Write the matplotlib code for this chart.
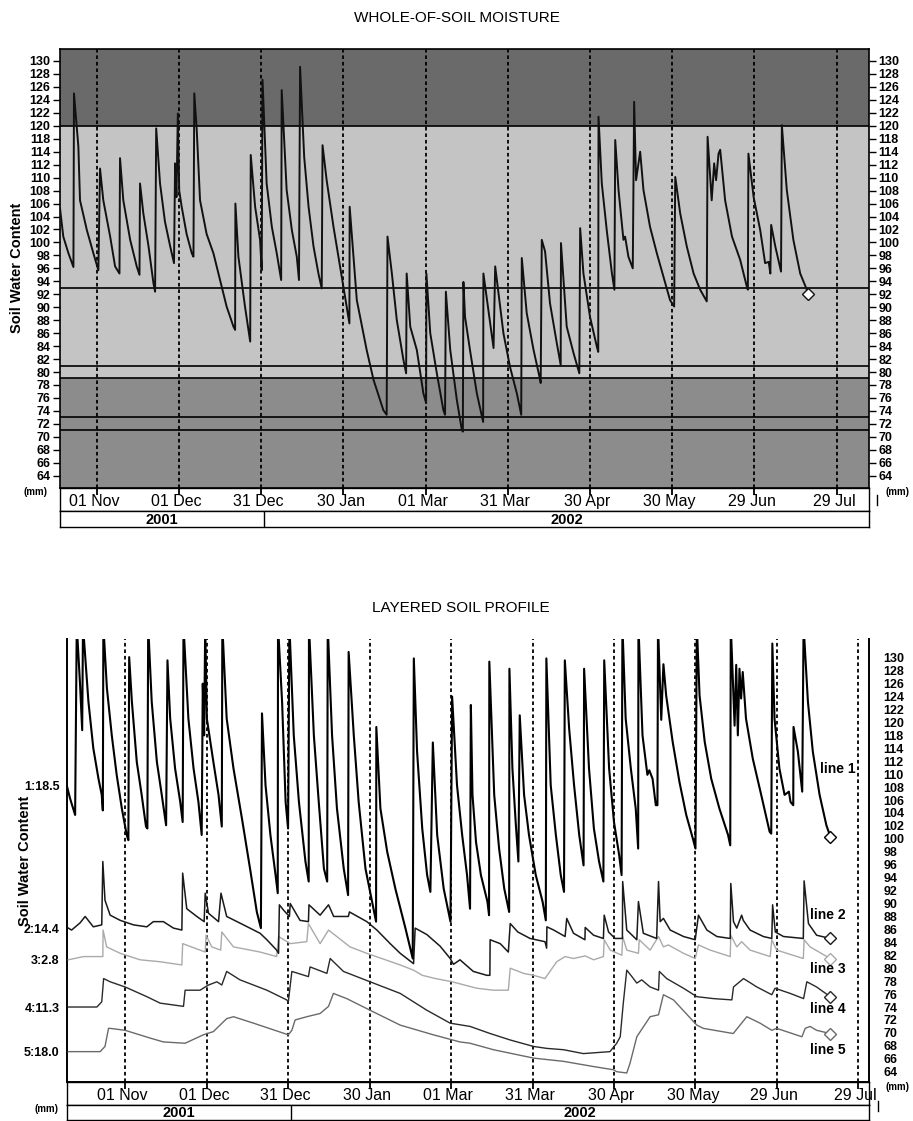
import matplotlib.pyplot as plt
from matplotlib.lines import Line2D
import numpy as np

plt.rcParams['font.family'] = ['Liberation Sans', 'DejaVu Sans']

W, H = 913, 1121

# x axis: days after 01 Nov 2001
DATE_LABELS = ['01 Nov', '01 Dec', '31 Dec', '30 Jan', '01 Mar', '31 Mar',
               '30 Apr', '30 May', '29 Jun', '29 Jul']
DATE_DAYS = [0, 30, 60, 90, 120, 150, 180, 210, 240, 270]
YEAR_LABELS = ['2001', '2002']
YEAR_START = 61  # 01 Jan 2002

# y scale labels as printed (116 is missing on the original scale)
SCALE_LABELS = [130, 128, 126, 124, 122, 120, 118, 114, 112, 110, 108, 106,
                104, 102, 100, 98, 96, 94, 92, 90, 88, 86, 84, 82, 80, 78,
                76, 74, 72, 70, 68, 66, 64]

# ---- whole-of-soil moisture (values on the drawn scale) ----
top_days = [
    -13.4, -12.2, -10.3, -8.5, -8.3, -6.7, -6.1, -3.6, -1.2, 0.6,
    1.2, 2.4, 4.9, 6.7, 8.3, 8.5, 9.7, 12.2, 14.6, 15.6,
    15.8, 17.0, 18.9, 20.7, 21.3, 21.7, 23.1, 24.9, 26.8, 28.2,
    28.6, 29.1, 29.6, 30.1, 31.0, 32.8, 34.7, 35.3, 35.6, 36.5,
    37.7, 40.1, 42.6, 45.0, 47.4, 49.9, 50.5, 50.6, 51.7, 54.1,
    56.0, 56.2, 57.8, 59.6, 60.2, 60.5, 62.0, 63.9, 65.7, 67.3,
    67.5, 69.3, 71.2, 73.0, 73.8, 74.2, 75.7, 77.3, 79.1, 80.9,
    82.1, 82.4, 83.9, 86.4, 88.8, 91.2, 92.2, 92.3, 93.7, 94.9,
    98.5, 101.0, 104.6, 105.8, 106.1, 107.7, 109.5, 111.9, 112.9, 113.1,
    114.4, 116.8, 119.2, 120.2, 120.3, 121.7, 124.1, 126.5, 127.1, 127.4,
    129.0, 131.4, 133.2, 133.6, 133.8, 134.4, 136.2, 138.7, 141.0, 141.1,
    144.8, 145.4, 148.4, 150.8, 153.3, 154.9, 155.1, 156.9, 159.4, 161.8,
    162.0, 162.4, 163.6, 165.4, 167.9, 169.3, 169.4, 171.5, 174.0, 176.1,
    176.4, 177.6, 180.0, 182.5, 183.0, 183.1, 184.3, 186.1, 188.0, 188.9,
    189.2, 190.4, 192.2, 192.8, 194.0, 195.6, 196.1, 196.8, 198.3, 199.5,
    201.9, 204.4, 206.8, 209.2, 210.7, 211.1, 212.9, 215.3, 217.8, 220.2,
    222.6, 222.9, 224.4, 225.3, 226.0, 226.9, 227.5, 229.3, 231.8, 234.8,
    237.2, 237.6, 237.8, 239.7, 242.1, 243.9, 245.2, 245.8, 246.1, 247.6,
    249.7, 250.0, 251.8, 254.2, 256.7, 259.7]
top_vals = [
    105.3, 100.9, 98.3, 96.2, 123.0, 114.8, 106.5, 101.9, 98.3, 95.7,
    111.4, 106.5, 100.9, 96.3, 95.2, 113.0, 106.5, 100.4, 96.3, 95.0,
    109.1, 104.5, 99.4, 93.7, 92.4, 117.6, 109.1, 103.2, 99.4, 96.8,
    112.2, 107.0, 119.9, 108.0, 105.5, 101.3, 98.3, 97.8, 123.0, 117.3,
    106.5, 101.3, 98.3, 94.2, 90.1, 87.0, 86.5, 106.0, 97.8, 90.1,
    84.7, 113.5, 105.5, 100.4, 95.7, 125.1, 109.1, 102.4, 98.3, 94.2,
    123.5, 108.1, 101.9, 97.8, 94.2, 127.1, 113.2, 105.5, 99.4, 95.2,
    92.9, 115.0, 109.6, 102.4, 96.3, 90.1, 87.5, 105.5, 97.8, 91.1,
    83.4, 78.8, 74.1, 73.4, 100.9, 95.2, 88.0, 81.9, 79.8, 95.2,
    87.0, 83.4, 76.7, 75.2, 95.2, 86.0, 79.8, 74.1, 73.4, 92.4,
    83.4, 75.7, 71.1, 70.8, 93.9, 88.5, 83.4, 76.7, 72.3, 95.2,
    83.7, 96.3, 86.0, 80.8, 76.7, 73.4, 97.6, 89.1, 83.4, 78.8,
    78.3, 100.4, 98.6, 90.6, 84.4, 81.1, 99.9, 87.0, 82.9, 79.8,
    102.2, 95.2, 88.5, 83.9, 83.1, 119.4, 109.1, 101.9, 95.2, 92.7,
    115.8, 108.1, 100.4, 100.9, 97.8, 96.0, 121.7, 109.6, 114.0, 108.1,
    102.4, 98.3, 94.7, 91.1, 90.1, 110.1, 104.5, 99.4, 95.2, 92.7,
    90.9, 116.3, 106.5, 112.2, 109.6, 113.7, 114.3, 106.5, 100.9, 97.3,
    93.2, 92.7, 113.7, 107.0, 101.9, 96.8, 97.0, 95.2, 102.7, 99.4,
    95.5, 118.1, 108.1, 100.4, 95.2, 92.1]

# horizontal reference lines of the upper chart (drawn scale)
top_limits = [118, 93, 81, 79, 73, 71]

# ---- layered soil profile ----
line1_days = [
    -21.5, -20.3, -18.4, -17.8, -16.6, -15.8, -15.5, -13.5, -11.7, -9.8,
    -8.6, -8.2, -8.0, -6.7, -4.9, -3.1, -1.2, 0.6, 1.2, 1.5,
    2.5, 4.3, 6.1, 7.7, 8.2, 8.5, 9.8, 11.7, 13.5, 15.1,
    15.6, 16.6, 18.4, 20.3, 21.2, 21.5, 23.3, 25.2, 27.0, 28.2,
    28.6, 29.1, 29.5, 30.1, 32.5, 34.4, 35.6, 35.8, 37.4, 39.9,
    43.0, 46.0, 48.5, 50.0, 50.4, 51.7, 53.5, 55.4, 56.2, 56.3,
    57.8, 59.1, 60.0, 60.5, 62.1, 64.0, 66.4, 67.6, 67.7, 69.5,
    71.3, 73.2, 74.4, 74.6, 76.2, 78.0, 80.5, 82.1, 82.3, 84.2,
    86.0, 88.5, 90.9, 92.4, 92.5, 94.0, 96.5, 99.5, 103.2, 105.9,
    106.3, 107.5, 109.4, 111.2, 112.4, 113.3, 114.9, 117.3, 119.8, 120.4,
    122.2, 124.1, 125.9, 127.0, 127.3, 127.9, 129.2, 131.0, 133.4, 134.0,
    134.1, 135.9, 137.7, 139.6, 141.4, 141.5, 142.6, 143.8, 144.8, 145.3,
    146.9, 148.7, 151.2, 153.7, 154.9, 155.1, 156.7, 158.6, 160.4, 161.6,
    161.9, 163.5, 165.3, 167.2, 168.8, 169.0, 170.8, 172.6, 174.5, 176.1,
    176.4, 178.2, 180.0, 181.9, 182.8, 183.1, 184.3, 186.2, 188.0, 188.9,
    189.0, 190.5, 192.3, 193.0, 194.2, 195.4, 196.0, 196.2, 197.4, 198.2,
    199.2, 201.6, 204.1, 206.6, 209.0, 210.0, 210.5, 211.5, 213.4, 215.8,
    218.8, 222.0, 222.8, 223.0, 224.4, 225.0, 225.6, 226.2, 226.8, 227.4,
    228.6, 231.1, 234.2, 237.3, 237.9, 238.3, 239.1, 240.9, 242.8, 244.4,
    245.0, 246.0, 246.1, 247.7, 249.3, 249.8, 251.4, 253.2, 255.7, 258.2,
    259.7]
line1_vals = [
    108.3, 106.3, 103.7, 133.0, 124.0, 116.8, 133.0, 121.2, 114.0, 109.3,
    106.8, 104.4, 133.0, 123.3, 116.0, 109.9, 104.7, 100.6, 99.8, 128.1,
    121.2, 111.9, 106.8, 101.9, 101.6, 133.0, 121.2, 111.9, 106.8, 102.1,
    127.6, 118.6, 110.9, 105.7, 102.6, 133.0, 118.6, 110.9, 105.7, 100.6,
    124.0, 116.0, 133.0, 118.6, 111.9, 106.8, 101.9, 133.0, 118.6, 110.9,
    103.2, 95.4, 88.7, 86.2, 119.4, 108.3, 100.6, 94.4, 91.6, 133.0,
    121.2, 105.7, 101.6, 133.0, 116.0, 105.7, 96.5, 93.4, 133.0, 116.0,
    105.7, 95.4, 93.4, 133.0, 116.0, 104.7, 95.4, 91.3, 128.9, 116.0,
    105.7, 95.4, 90.3, 87.2, 117.3, 104.7, 98.0, 92.3, 86.2, 81.5,
    127.9, 113.5, 101.6, 94.4, 91.8, 114.9, 100.6, 92.3, 87.2, 122.0,
    108.3, 100.6, 94.4, 89.2, 120.7, 106.8, 99.5, 94.4, 90.3, 88.2,
    127.4, 106.8, 98.5, 92.3, 88.7, 126.3, 110.9, 102.6, 96.5, 119.1,
    106.8, 100.6, 94.4, 90.3, 87.4, 127.9, 108.3, 100.6, 94.4, 91.8,
    127.6, 117.0, 108.3, 100.6, 95.9, 126.3, 110.9, 101.6, 96.5, 93.4,
    127.6, 110.9, 102.6, 97.5, 94.4, 133.0, 118.6, 110.9, 104.7, 98.5,
    133.0, 116.0, 109.9, 110.6, 109.3, 105.2, 105.2, 133.0, 118.4, 127.0,
    122.2, 115.0, 108.8, 103.7, 100.1, 98.5, 133.0, 122.2, 115.0, 109.3,
    104.7, 100.6, 99.0, 133.0, 117.5, 126.9, 116.0, 126.3, 121.7, 125.8,
    118.6, 112.4, 106.8, 101.1, 100.8, 130.2, 118.6, 110.9, 106.8, 107.3,
    105.7, 105.2, 117.3, 113.5, 107.3, 133.0, 121.2, 113.5, 106.8, 102.1,
    100.3]

line2_days = [
    -20.9, -19.7, -16.6, -14.7, -11.7, -8.6, -8.2, -7.4, -5.5, -1.8,
    3.1, 8.0, 10.4, 14.1, 17.8, 20.9, 21.2, 22.7, 26.4, 29.1,
    29.5, 30.7, 34.4, 35.3, 37.4, 43.6, 49.7, 52.2, 55.8, 56.5,
    56.8, 58.3, 60.5, 60.8, 64.4, 67.5, 67.7, 71.8, 74.9, 76.8,
    82.2, 82.6, 89.0, 92.7, 97.6, 101.3, 106.2, 106.8, 111.1, 116.0,
    119.7, 120.9, 123.3, 128.2, 133.2, 134.3, 134.4, 138.1, 141.1, 141.8,
    144.6, 149.1, 154.6, 155.2, 155.3, 157.8, 162.0, 162.6, 165.1, 169.3,
    169.4, 172.5, 176.1, 176.4, 178.0, 180.4, 183.1, 183.2, 184.7, 188.4,
    189.0, 190.8, 195.7, 196.4, 197.0, 198.2, 200.7, 205.6, 209.9, 211.1,
    214.2, 217.9, 222.8, 223.0, 224.0, 225.2, 227.0, 227.6, 230.1, 235.0,
    238.1, 238.4, 239.4, 242.4, 249.7, 250.0, 251.6, 254.6, 259.6]
line2_vals = [
    86.2, 85.9, 87.0, 88.0, 86.4, 86.7, 96.5, 90.5, 88.2, 87.4,
    86.7, 86.4, 87.2, 87.2, 86.2, 85.9, 94.7, 89.2, 88.0, 87.2,
    91.6, 88.5, 87.2, 91.6, 88.0, 86.7, 85.4, 84.4, 82.8, 82.3,
    89.8, 89.0, 88.0, 90.0, 87.4, 87.2, 89.8, 88.2, 89.8, 88.0,
    88.0, 88.7, 87.2, 85.9, 83.8, 82.3, 80.7, 86.2, 85.2, 83.4,
    81.5, 80.6, 81.3, 79.5, 78.9, 78.9, 84.4, 83.8, 82.5, 86.9,
    85.6, 84.6, 84.1, 83.1, 86.4, 85.9, 84.9, 87.7, 85.4, 84.4,
    86.3, 85.1, 84.6, 88.2, 85.6, 84.6, 84.6, 93.4, 85.9, 84.4,
    90.3, 85.4, 84.6, 93.4, 87.2, 87.7, 85.9, 84.9, 84.4, 88.2,
    85.9, 84.9, 84.6, 93.1, 87.2, 86.2, 88.2, 87.4, 85.9, 84.9,
    84.6, 89.8, 85.6, 84.9, 84.6, 93.5, 86.9, 85.1, 84.6]

line3_days = [
    -20.9, -15.3, -9.2, -8.2, -8.1, -6.8, -1.8, 5.5, 12.9, 20.9,
    21.2, 27.6, 29.5, 29.8, 31.9, 35.2, 35.6, 39.9, 49.7, 55.8,
    56.5, 60.8, 66.9, 67.5, 71.8, 74.9, 82.8, 89.0, 101.3, 106.2,
    109.4, 114.3, 120.4, 129.5, 135.6, 141.1, 141.8, 146.7, 150.4, 154.6,
    158.9, 162.0, 165.1, 169.4, 172.5, 176.1, 176.4, 178.6, 182.9, 183.2,
    184.7, 189.0, 189.3, 193.3, 196.4, 198.2, 200.0, 205.6, 209.9, 211.1,
    215.4, 222.8, 223.0, 225.2, 227.0, 230.1, 237.5, 238.1, 239.9, 249.7,
    250.0, 252.2, 259.6]
line3_vals = [
    81.3, 81.8, 81.8, 81.8, 85.9, 83.3, 82.3, 81.3, 81.0, 80.5,
    83.8, 82.8, 82.5, 85.1, 83.3, 82.8, 85.6, 83.3, 82.5, 81.8,
    84.9, 83.8, 84.1, 86.9, 83.8, 85.9, 83.3, 82.3, 80.5, 79.7,
    78.9, 78.4, 77.9, 76.9, 76.6, 76.6, 80.0, 79.2, 78.9, 78.4,
    81.0, 81.8, 81.5, 81.9, 81.3, 81.8, 84.4, 82.8, 82.0, 84.9,
    82.8, 82.3, 84.4, 82.8, 84.9, 83.3, 83.6, 82.3, 81.5, 83.6,
    82.8, 81.8, 85.1, 83.3, 84.1, 82.8, 81.8, 84.4, 82.8, 81.5,
    84.4, 83.3, 81.5]

line4_days = [
    -20.9, -10.4, -8.6, -7.9, -5.5, 0.0, 8.0, 12.9, 21.5, 22.1,
    27.6, 29.5, 30.7, 33.8, 35.6, 37.4, 42.3, 52.2, 59.5, 60.1,
    61.4, 67.5, 68.1, 74.3, 75.5, 80.4, 90.2, 101.3, 111.1, 119.7,
    127.0, 134.4, 141.8, 150.4, 155.3, 161.4, 168.7, 178.5, 181.0, 182.3,
    183.4, 184.7, 186.6, 188.4, 190.2, 193.3, 196.4, 196.7, 199.4, 205.6,
    210.5, 216.6, 223.4, 224.0, 227.7, 232.6, 238.1, 239.3, 244.9, 249.8,
    251.0, 254.6, 259.6]
line4_vals = [
    74.0, 74.0, 74.8, 78.4, 77.9, 77.1, 75.6, 74.6, 74.1, 76.6,
    76.6, 77.1, 77.4, 77.9, 77.4, 79.5, 78.2, 76.6, 75.1, 74.8,
    79.5, 78.7, 80.2, 79.2, 81.5, 79.5, 77.9, 76.1, 73.5, 71.5,
    71.0, 69.9, 68.9, 67.9, 67.6, 67.4, 66.8, 67.1, 68.4, 69.4,
    74.5, 79.7, 78.7, 77.7, 78.2, 77.1, 76.6, 79.5, 78.4, 76.9,
    75.6, 75.3, 75.1, 77.1, 78.4, 77.1, 75.9, 76.9, 76.1, 75.3,
    77.9, 77.1, 75.6]

line5_days = [
    -20.9, -9.2, -7.4, -6.1, -5.5, 0.0, 9.2, 14.1, 22.1, 28.8,
    32.5, 37.4, 39.9, 47.3, 60.1, 61.4, 62.6, 66.9, 71.8, 74.9,
    76.7, 81.6, 90.2, 101.3, 113.5, 123.3, 127.0, 135.6, 150.4, 161.4,
    172.4, 179.8, 181.0, 184.7, 185.9, 188.4, 193.3, 196.4, 198.2, 201.9,
    210.5, 212.9, 223.9, 226.4, 228.9, 233.8, 238.1, 239.9, 249.2, 250.4,
    252.2, 254.6, 259.6]
line5_vals = [
    67.1, 67.1, 67.9, 70.7, 70.7, 70.4, 69.2, 68.6, 68.4, 69.7,
    70.2, 72.2, 72.5, 71.5, 69.7, 70.4, 72.0, 72.5, 73.0, 74.1,
    76.1, 75.3, 73.5, 71.2, 69.7, 68.6, 68.4, 67.4, 66.1, 65.6,
    64.8, 64.3, 64.0, 63.8, 65.3, 69.4, 72.5, 72.8, 75.9, 75.1,
    71.2, 70.7, 69.9, 71.2, 72.5, 71.5, 70.4, 70.7, 69.4, 70.7,
    71.0, 70.4, 69.9]

LAYER_NAMES = ['line 1', 'line 2', 'line 3', 'line 4', 'line 5']
LAYER_START_LABELS = ['1:18.5', '2:14.4', '3:2.8', '4:11.3', '5:18.0']


def px_rect(left, top, right, bottom):
    # pixel box -> figure fraction rect
    return [left / W, 1 - bottom / H, (right - left) / W, (bottom - top) / H]


def scale_positions():
    # printed labels sit on an even 2-unit spacing
    return np.linspace(128, 64, len(SCALE_LABELS))


def draw_strips(fig, rect_dates, rect_years, xlim):
    axd = fig.add_axes(rect_dates)
    axd.set_xlim(xlim)
    axd.set_ylim(0, 1)
    axd.set_yticks([])
    axd.set_xticks(DATE_DAYS)
    axd.set_xticklabels([])
    axd.tick_params(axis='x', direction='in', top=True, bottom=False,
                    length=5, width=1.3)
    for sp in axd.spines.values():
        sp.set_linewidth(1.0)
    for d, lab in zip(DATE_DAYS, DATE_LABELS):
        axd.text(d - 1, 0.42, lab, ha='center', va='center', fontsize=11.5)

    axy = fig.add_axes(rect_years)
    axy.set_xlim(xlim)
    axy.set_ylim(0, 1)
    axy.set_xticks([])
    axy.set_yticks([])
    for sp in axy.spines.values():
        sp.set_linewidth(1.0)
    axy.axvline(YEAR_START, color='k', lw=1.0)
    axy.text((xlim[0] + YEAR_START) / 2, 0.45, YEAR_LABELS[0], ha='center',
             va='center', fontsize=10.5, fontweight='bold')
    axy.text((YEAR_START + xlim[1]) / 2, 0.45, YEAR_LABELS[1], ha='center',
             va='center', fontsize=10.5, fontweight='bold')


def small_bar(fig, x, y):
    fig.add_artist(Line2D([x / W, x / W], [1 - (y - 5) / H, 1 - (y + 5) / H],
                          color='k', lw=1.0))


def draw_whole_soil(fig):
    xlim = (-13.4, 281.8)
    ax = fig.add_axes(px_rect(60, 49, 869, 488))
    ax.set_xlim(xlim)
    ax.set_ylim(62.1, 129.85)

    # shaded zones
    ax.axhspan(top_limits[0], 140, color='#6a6a6a', lw=0, zorder=0)
    ax.axhspan(top_limits[3], top_limits[0], color='#c4c4c4', lw=0, zorder=0)
    ax.axhspan(50, top_limits[3], color='#8c8c8c', lw=0, zorder=0)
    for v in top_limits:
        ax.axhline(v, color='k', lw=1.2, zorder=2)

    for d in DATE_DAYS:
        ax.axvline(d, color='k', lw=1.3, ls=(0, (2, 1.6)), zorder=2)

    ax.plot(top_days, top_vals, color='#111111', lw=1.4, zorder=3)
    ax.plot(top_days[-1], top_vals[-1], marker='D', ms=6, mfc='white',
            mec='#111111', mew=1.0, zorder=4)

    pos = scale_positions()
    ax.set_xticks([])
    ax.set_yticks(pos)
    ax.set_yticklabels([str(v) for v in SCALE_LABELS], fontsize=9,
                       fontweight='bold')
    ax.tick_params(axis='y', left=True, right=True, labelleft=True,
                   labelright=True, length=5, width=1.0, pad=2)
    for sp in ax.spines.values():
        sp.set_linewidth(1.2)

    draw_strips(fig, px_rect(60, 488, 869, 511), px_rect(60, 511, 869, 527),
                xlim)

    fig.text(457 / W, 1 - 18 / H, 'WHOLE-OF-SOIL MOISTURE', ha='center',
             va='center', fontsize=11)
    fig.text(17.5 / W, 1 - 268 / H, 'Soil Water Content', rotation=90,
             ha='center', va='center', fontsize=10.5, fontweight='bold')
    fig.text(35 / W, 1 - 492 / H, '(mm)', ha='center', va='center',
             fontsize=7, fontweight='bold')
    fig.text(897 / W, 1 - 492 / H, '(mm)', ha='center', va='center',
             fontsize=7, fontweight='bold')
    small_bar(fig, 877, 500)


def draw_layers(fig):
    xlim = (-21.5, 274.0)
    ax = fig.add_axes(px_rect(66.7, 639, 869.3, 1082.3))
    ax.set_xlim(xlim)
    ax.set_ylim(62.36, 130.9)
    ax.spines['top'].set_visible(False)
    for side in ('left', 'right', 'bottom'):
        ax.spines[side].set_linewidth(1.4)

    for d in DATE_DAYS:
        ax.axvline(d, color='k', lw=1.3, ls=(0, (2, 1.6)), zorder=1)

    series = [(line5_days, line5_vals, '#6a6a6a', 1.0),
              (line4_days, line4_vals, '#2a2a2a', 1.0),
              (line3_days, line3_vals, '#aaaaaa', 1.0),
              (line2_days, line2_vals, '#1a1a1a', 1.1),
              (line1_days, line1_vals, '#000000', 1.5)]
    for days, vals, col, lw in series:
        ax.plot(days, vals, color=col, lw=lw, zorder=3)
        ax.plot(days[-1], vals[-1], marker='D', ms=6, mfc='white', mec=col,
                mew=1.0, zorder=4)

    starts = [line1_vals[0], line2_vals[0], line3_vals[0], line4_vals[0],
              line5_vals[0]]
    ax.set_xticks([])
    ax.set_yticks(starts)
    ax.set_yticklabels(LAYER_START_LABELS, fontsize=9, fontweight='bold')
    ax.tick_params(axis='y', length=0, pad=5)

    axr = ax.twinx()
    axr.set_ylim(ax.get_ylim())
    axr.set_yticks(scale_positions())
    axr.set_yticklabels([str(v) for v in SCALE_LABELS], fontsize=9,
                        fontweight='bold')
    axr.tick_params(axis='y', length=0, pad=10)
    for sp in axr.spines.values():
        sp.set_visible(False)

    # series names at the right
    name_pos = [(0.9386, 0.7068), (0.9262, 0.3776), (0.9262, 0.2549),
                (0.9262, 0.1653), (0.9262, 0.0729)]
    for name, (fx, fy) in zip(LAYER_NAMES, name_pos):
        ax.text(fx, fy, name, transform=ax.transAxes, ha='left',
                va='center', fontsize=10, fontweight='bold', zorder=5)

    draw_strips(fig, px_rect(66.7, 1082.3, 869.3, 1105.3),
                px_rect(66.7, 1105.3, 869.3, 1119.5), xlim)

    fig.text(461 / W, 1 - 608 / H, 'LAYERED SOIL PROFILE', ha='center',
             va='center', fontsize=11)
    fig.text(25 / W, 1 - 861 / H, 'Soil Water Content', rotation=90,
             ha='center', va='center', fontsize=10.5, fontweight='bold')
    fig.text(46 / W, 1 - 1109 / H, '(mm)', ha='center', va='center',
             fontsize=7, fontweight='bold')
    fig.text(897 / W, 1 - 1087 / H, '(mm)', ha='center', va='center',
             fontsize=7, fontweight='bold')
    small_bar(fig, 878, 1106)


def main():
    fig = plt.figure(figsize=(W / 100, H / 100), dpi=100)
    draw_whole_soil(fig)
    draw_layers(fig)
    fig.savefig('out.png', dpi=100)


if __name__ == "__main__":
    main()
